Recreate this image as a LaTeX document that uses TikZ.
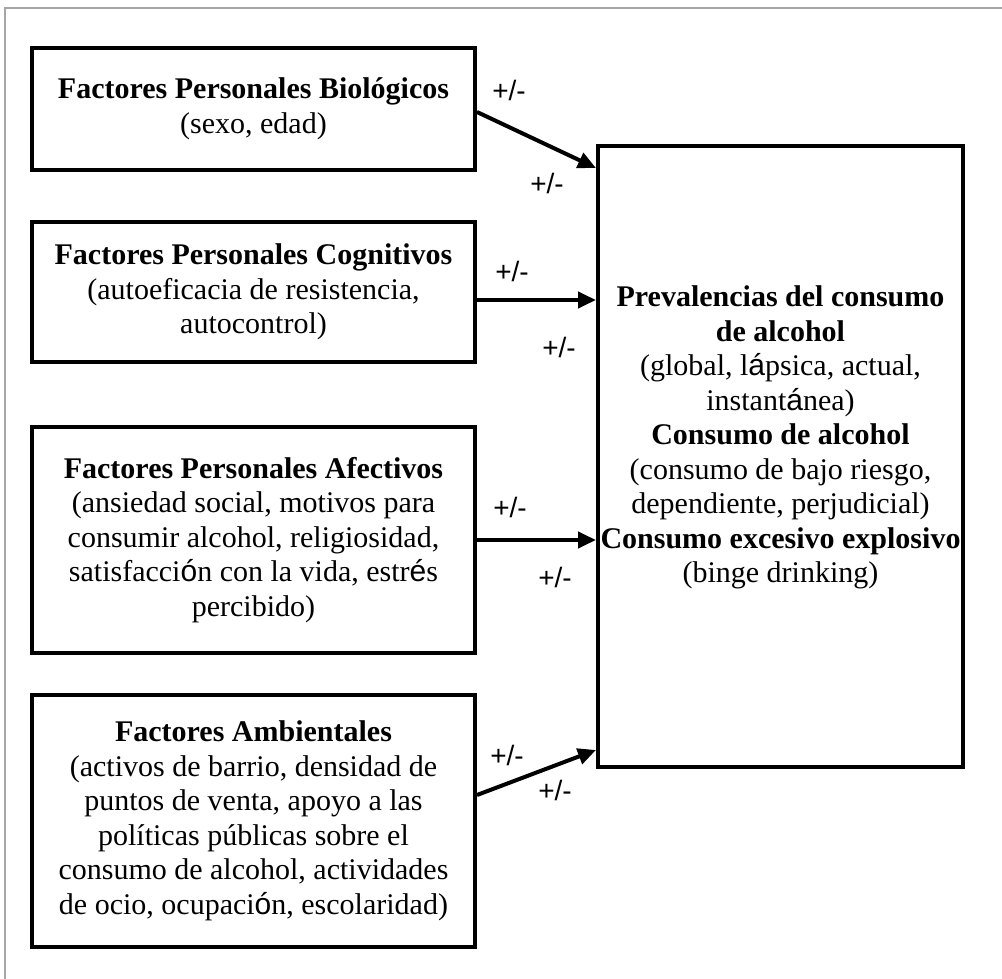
\documentclass[tikz,border=0pt]{standalone}
\usepackage{fontspec}
\setmainfont{Liberation Serif}
\newfontfamily\lsans{Liberation Sans}
\usetikzlibrary{arrows.meta}
\newcommand{\fb}[1]{{\lsans #1}}
\begin{document}
\begin{tikzpicture}[x=1pt,y=-1pt,
  txt/.style={font=\fontsize{30}{34.5}\selectfont, align=center, inner sep=0pt},
  box/.style={txt, draw, line width=4pt, minimum width=443pt},
  arr/.style={line width=4pt, -{Triangle[length=18pt,width=16pt]}},
  pm/.style={font=\lsans\fontsize{28}{30}\selectfont, inner sep=0pt}]
\useasboundingbox (0,0) rectangle (1002,979);
\draw[gray!70, line width=1.5pt] (5,979) -- (5,8) -- (1002,8);

\node[box, minimum height=122pt] (b1) at (253.5,109)
  {\textbf{Factores Personales Biológicos}\\(sexo, edad)};
\node[box, minimum height=140pt] (b2) at (253.5,292)
  {\textbf{Factores Personales Cognitivos}\\(autoeficacia de resistencia,\\autocontrol)};
\node[box, minimum height=226pt] (b3) at (253.5,540)
  {\textbf{Factores Personales Afectivos}\\(ansiedad social, motivos para\\consumir alcohol, religiosidad,\\satisfacci\fb{ó}n con la vida, estr\fb{é}s\\percibido)};
\node[box, minimum height=252pt] (b4) at (253.5,821)
  {\textbf{Factores Ambientales}\\(activos de barrio, densidad de\\puntos de venta, apoyo a las\\políticas públicas sobre el\\consumo de alcohol, actividades\\de ocio, ocupaci\fb{ó}n, escolaridad)};

\node[draw, line width=4pt, minimum width=365pt, minimum height=621pt, inner sep=0pt] (big) at (780.5,456.5) {};
\node[txt] (bigtext) at (780.5,437.5)
  {\textbf{Prevalencias del consumo}\\\textbf{de alcohol}\\(global, l\fb{á}psica, actual,\\instant\fb{á}nea)\\\textbf{Consumo de alcohol}\\(consumo de bajo riesgo,\\dependiente, perjudicial)\\\textbf{Consumo excesivo explosivo}\\(binge drinking)};

\draw[arr] ([yshift=-3pt]b1.east) -- ([yshift=288.5pt]big.west);
\draw[arr] ([yshift=-8pt]b2.east) -- ([yshift=156.5pt]big.west);
\draw[arr] (b3.east) -- ([yshift=-83.5pt]big.west);
\draw[arr] ([yshift=26pt]b4.east) -- ([yshift=-293.5pt]big.west);

\node[pm] (p1a) at (509,90) {+/-};
\node[pm] (p1b) at (547,183) {+/-};
\node[pm] (p2a) at (512,271) {+/-};
\node[pm] (p2b) at (559,347) {+/-};
\node[pm] (p3a) at (510,507) {+/-};
\node[pm] (p3b) at (555,577) {+/-};
\node[pm] (p4a) at (507,755) {+/-};
\node[pm] (p4b) at (555,790) {+/-};
\end{tikzpicture}
\end{document}
